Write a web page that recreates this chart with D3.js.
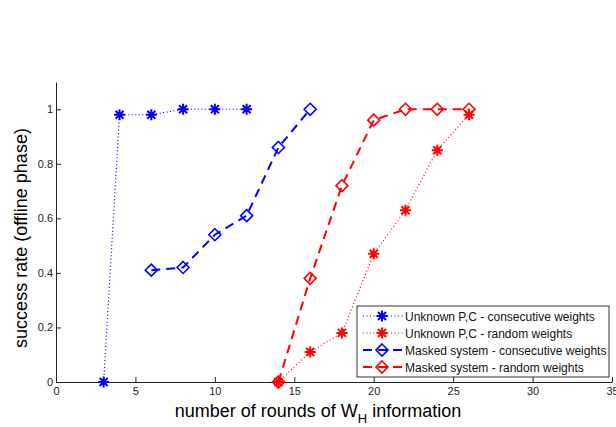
<!DOCTYPE html>
<html>
<head>
<meta charset="utf-8">
<script src="https://cdn.jsdelivr.net/npm/d3@7"></script>
<style>
  body { margin: 0; background: #fff; }
  svg { display: block; font-family: Arial, "Liberation Sans", sans-serif; }
</style>
</head>
<body>
<div id="chart"></div>
<script>
// rounds of W_H information
var knownConsX = [3, 4, 6, 8, 10, 12];
var knownConsY = [0, 0.98, 0.98, 1, 1, 1];
var knownRandX = [14, 16, 18, 20, 22, 24, 26];
var knownRandY = [0, 0.11, 0.18, 0.47, 0.63, 0.85, 0.98];
var maskedConsX = [6, 8, 10, 12, 14, 16];
var maskedConsY = [0.41, 0.42, 0.54, 0.61, 0.86, 1];
var maskedRandX = [14, 16, 18, 20, 22, 24, 26];
var maskedRandY = [0, 0.38, 0.72, 0.96, 1, 1, 1];

var xTicks = [0, 5, 10, 15, 20, 25, 30, 35];
var yTicks = [0, 0.2, 0.4, 0.6, 0.8, 1];

var seriesNames = [
  "Unknown P,C - consecutive weights",
  "Unknown P,C - random weights",
  "Masked system - consecutive weights",
  "Masked system - random weights"
];

var width = 616, height = 427;
var margin = { top: 82, right: 4, bottom: 45, left: 56 };
var w = width - margin.left - margin.right;
var h = height - margin.top - margin.bottom;

var svg = d3.select("#chart").append("svg")
    .attr("width", width)
    .attr("height", height);

var g = svg.append("g")
    .attr("transform", "translate(" + margin.left + "," + margin.top + ")");

var x = d3.scaleLinear().domain([0, 35]).range([0, w]);
var y = d3.scaleLinear().domain([0, 1.1]).range([h, 0]);

// axes, matlab style ticks pointing inward
var xAxis = d3.axisBottom(x).tickValues(xTicks).tickSizeInner(-5).tickSizeOuter(0).tickPadding(3);
var yAxis = d3.axisLeft(y).tickValues(yTicks).tickSizeInner(-5).tickSizeOuter(0).tickPadding(3)
    .tickFormat(function(d) { return d === 0 ? "0" : d3.format("")(+d.toFixed(1)); });

var gx = g.append("g")
    .attr("transform", "translate(0," + h + ")")
    .call(xAxis);
var gy = g.append("g").call(yAxis);

[gx, gy].forEach(function(a) {
  a.select(".domain").attr("stroke", "#222").attr("stroke-width", 1);
  a.selectAll(".tick line").attr("stroke", "#222");
  a.selectAll(".tick text").attr("fill", "#222").style("font-size", "11px").style("font-family", "Arial, 'Liberation Sans', sans-serif");
});
gx.selectAll(".tick text").attr("dy", "0.9em");

// axis labels
svg.append("text")
    .attr("x", 318).attr("y", 417)
    .attr("text-anchor", "middle")
    .style("font-size", "18px")
    .text("number of rounds of W")
    .append("tspan").attr("dy", 6).style("font-size", "13px").text("H")
    .select(function() { return this.parentNode; })
    .append("tspan").attr("dy", -6).style("font-size", "18px").text(" information");

svg.append("text")
    .attr("transform", "translate(27," + (margin.top + h / 2 + 6) + ") rotate(-90)")
    .attr("text-anchor", "middle")
    .style("font-size", "18px")
    .text("success rate (offline phase)");

var series = [
  { name: seriesNames[0], xs: knownConsX, ys: knownConsY, color: "#0000ff", dash: "1,2.5", lw: 1.2, marker: "star" },
  { name: seriesNames[1], xs: knownRandX, ys: knownRandY, color: "#ff0000", dash: "1,2.5", lw: 1.2, marker: "star" },
  { name: seriesNames[2], xs: maskedConsX, ys: maskedConsY, color: "#0000ff", dash: "9,6", lw: 2, marker: "diamond" },
  { name: seriesNames[3], xs: maskedRandX, ys: maskedRandY, color: "#ff0000", dash: "9,6", lw: 2, marker: "diamond" }
];

var line = d3.line()
    .x(function(d) { return x(d[0]); })
    .y(function(d) { return y(d[1]); });

function drawMarker(sel, type, color, px, py) {
  if (type === "star") {
    var r = 5.5, rd = 4;
    sel.append("path")
        .attr("d", "M" + (px - r) + "," + py + "H" + (px + r) +
                   "M" + px + "," + (py - r) + "V" + (py + r) +
                   "M" + (px - rd) + "," + (py - rd) + "L" + (px + rd) + "," + (py + rd) +
                   "M" + (px - rd) + "," + (py + rd) + "L" + (px + rd) + "," + (py - rd))
        .attr("stroke", color).attr("stroke-width", 2).attr("fill", "none");
  } else {
    var s = 6;
    sel.append("path")
        .attr("d", "M" + px + "," + (py - s) + "L" + (px + s) + "," + py + "L" + px + "," + (py + s) + "L" + (px - s) + "," + py + "Z")
        .attr("stroke", color).attr("stroke-width", 1.6).attr("fill", "none");
  }
}

series.forEach(function(s) {
  var pts = s.xs.map(function(v, i) { return [v, s.ys[i]]; });
  g.append("path")
      .datum(pts)
      .attr("d", line)
      .attr("fill", "none")
      .attr("stroke", s.color)
      .attr("stroke-width", s.lw)
      .attr("stroke-dasharray", s.dash);
  var mg = g.append("g");
  pts.forEach(function(p) { drawMarker(mg, s.marker, s.color, x(p[0]), y(p[1])); });
});

// legend
var lg = svg.append("g").attr("transform", "translate(357,306)");
lg.append("rect")
    .attr("width", 252).attr("height", 71)
    .attr("fill", "#fff").attr("stroke", "#333").attr("stroke-width", 1);

series.forEach(function(s, i) {
  var ly = 10 + i * 17;
  lg.append("line")
      .attr("x1", 6).attr("x2", 46).attr("y1", ly).attr("y2", ly)
      .attr("stroke", s.color).attr("stroke-width", s.lw)
      .attr("stroke-dasharray", s.dash);
  drawMarker(lg, s.marker, s.color, 25, ly);
  lg.append("text")
      .attr("x", 48).attr("y", ly + 4.5)
      .style("font-size", "12px")
      .attr("fill", "#111")
      .text(s.name);
});
</script>
</body>
</html>
